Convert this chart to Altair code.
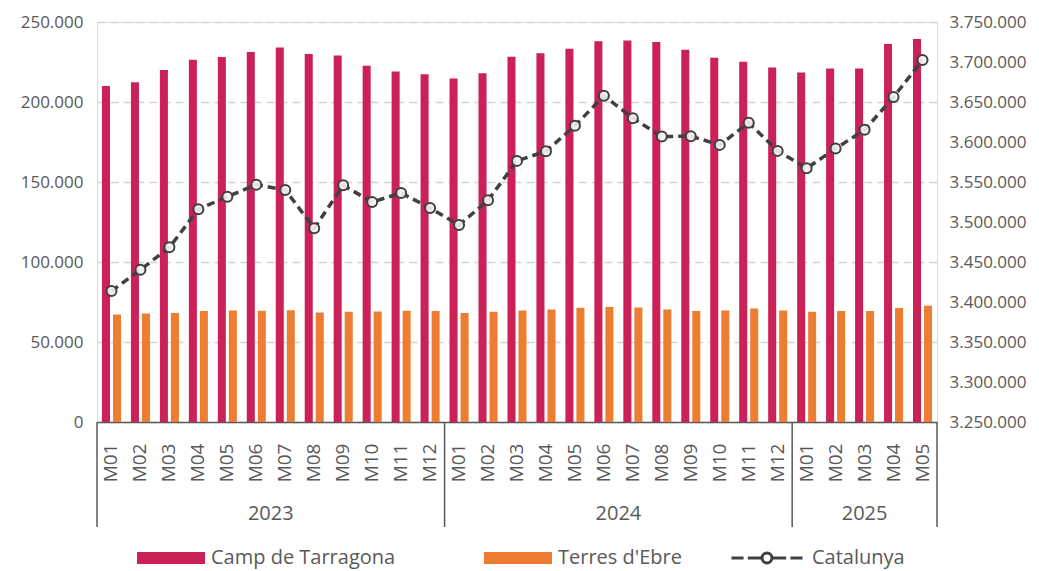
import altair as alt
import pandas as pd

# ---------------- data ----------------
years = ["2023"] * 12 + ["2024"] * 12 + ["2025"] * 5
months = [f"M{m:02d}" for m in range(1, 13)] * 2 + [f"M{m:02d}" for m in range(1, 6)]
keys = [f"{y}-{m}" for y, m in zip(years, months)]

camp_tarragona = [210000, 212400, 220000, 226400, 228100, 231200, 234100, 230000, 229100, 222700,
                  219100, 217400, 214700, 217900, 228300, 230400, 233300, 237900, 238500, 237500,
                  232700, 227700, 225200, 221600, 218500, 221000, 221000, 236200, 239400]
terres_ebre = [67200, 67800, 68200, 69300, 69700, 69500, 69900, 68400, 68900, 69100, 69500, 69300,
               68200, 68900, 69700, 70300, 71400, 71800, 71600, 70300, 69300, 69700, 71000, 69700,
               68900, 69300, 69300, 71200, 72600]
catalunya = [3413600, 3440300, 3468300, 3515900, 3531700, 3546700, 3540100, 3492100, 3545900,
             3525000, 3536300, 3517500, 3496200, 3527100, 3576400, 3588500, 3620200, 3657800,
             3629800, 3606800, 3607300, 3596400, 3624000, 3588900, 3567200, 3591800, 3615200,
             3656100, 3702400]

series_bars = ["Camp de Tarragona", "Terres d'Ebre"]
series_colors = ["#CC2157", "#ED7D31"]
year_labels = ["2023", "2024", "2025"]
year_center_keys = ["2023-M07", "2024-M07", "2025-M03"]
year_start_keys = ["2023-M01", "2024-M01", "2025-M01"]

FONT = "Open Sans"
TXT = "#595959"
DARK = "#404040"

bars_df = pd.DataFrame({
    "key": keys * 2,
    "series": [series_bars[0]] * len(keys) + [series_bars[1]] * len(keys),
    "value": camp_tarragona + terres_ebre,
})
line_df = pd.DataFrame({"key": keys, "series": "Catalunya", "value": catalunya})
sep_df = pd.DataFrame({"key": year_start_keys})
end_df = pd.DataFrame({"key": [keys[-1]]})
yr_a = pd.DataFrame({"key": year_center_keys[:2], "year": year_labels[:2]})
yr_b = pd.DataFrame({"key": year_center_keys[2:], "year": year_labels[2:]})

W, H = 840, 400
xscale = alt.Scale(domain=keys, paddingInner=0, paddingOuter=0)

x_axis = alt.Axis(
    title=None, labelExpr="split(datum.value, '-')[1]", labelAngle=-90,
    labelAlign="right", labelBaseline="middle",
    labelFont=FONT, labelFontSize=19, labelColor=TXT, labelPadding=21,
    ticks=False, domainColor=TXT, domainWidth=1.5, grid=False,
)

cat_path = ("M-1,0H-0.66M-0.54,0H-0.15M0.15,0H0.54M0.66,0H1"
            "M0.14,0A0.14,0.14 0 1 1 -0.14,0A0.14,0.14 0 1 1 0.14,0Z")
rect_path = "M-1,-0.18H1V0.18H-1Z"

bars = alt.Chart(bars_df).mark_bar().encode(
    x=alt.X("key:N", scale=xscale, axis=x_axis),
    xOffset=alt.XOffset("series:N", scale=alt.Scale(domain=series_bars, paddingInner=0.27, paddingOuter=0.45)),
    y=alt.Y("value:Q", scale=alt.Scale(domain=[0, 250000], nice=False),
            axis=alt.Axis(title=None, values=[0, 50000, 100000, 150000, 200000, 250000],
                          format=",d", labelFont=FONT, labelFontSize=17, labelColor=TXT,
                          labelPadding=14, ticks=False, domain=False, grid=True,
                          gridDash=[8, 5], gridColor="#d4d4d4", gridWidth=1.5,
                          minExtent=84, maxExtent=84)),
    color=alt.Color("series:N", scale=alt.Scale(domain=series_bars, range=series_colors),
                    legend=alt.Legend(title=None, orient="none", legendX=40, legendY=502,
                                      direction="horizontal", symbolType=rect_path,
                                      symbolSize=4624, labelFont=FONT, labelFontSize=20,
                                      labelColor=TXT, labelOffset=6, columnPadding=88,
                                      labelLimit=400, padding=0, symbolStrokeWidth=0)),
)

yright = alt.Y("value:Q", scale=alt.Scale(domain=[3250000, 3750000], nice=False),
               axis=alt.Axis(title=None, orient="right",
                             values=[3250000 + 50000 * i for i in range(11)],
                             format=",d", labelFont=FONT, labelFontSize=17, labelColor=TXT,
                             labelPadding=12, ticks=False, domain=False, grid=False))

line = alt.Chart(line_df).mark_line(color=DARK, strokeDash=[8, 5], strokeWidth=3.5).encode(
    x=alt.X("key:N", scale=xscale), y=yright)
pts = alt.Chart(line_df).mark_point(shape="circle", filled=True, fill="#f2f2f2", fillOpacity=0.9,
                                    stroke=DARK, strokeWidth=2, size=100, opacity=1).encode(
    x=alt.X("key:N", scale=xscale), y=yright)
hidden = alt.Chart(line_df).mark_point(opacity=0).encode(
    x=alt.X("key:N", scale=xscale), y=yright,
    shape=alt.Shape("series:N", scale=alt.Scale(domain=["Catalunya"], range=[cat_path]),
                    legend=alt.Legend(title=None, orient="none", legendX=633, legendY=499,
                                      symbolSize=5041, symbolOpacity=1, symbolFillColor="#ffffff",
                                      symbolStrokeColor=DARK, symbolStrokeWidth=3,
                                      labelFont=FONT, labelFontSize=20, labelColor=TXT,
                                      labelOffset=8, labelLimit=400, padding=0)),
)
right_layer = alt.layer(line, pts, hidden)

main = alt.layer(bars, right_layer).resolve_scale(y="independent", shape="independent",
                                                   color="independent")

seps = alt.Chart(sep_df).mark_rule(color=TXT, strokeWidth=1.5).encode(
    x=alt.X("key:N", scale=xscale, bandPosition=0), y=alt.value(H), y2=alt.value(H + 105))
end_rule = alt.Chart(end_df).mark_rule(color=TXT, strokeWidth=1.5).encode(
    x=alt.X("key:N", scale=xscale, bandPosition=1), y=alt.value(H), y2=alt.value(H + 105))
ytxt_a = alt.Chart(yr_a).mark_text(font=FONT, fontSize=20, color=TXT, baseline="middle").encode(
    x=alt.X("key:N", scale=xscale, bandPosition=0), y=alt.value(H + 92), text="year:N")
ytxt_b = alt.Chart(yr_b).mark_text(font=FONT, fontSize=20, color=TXT, baseline="middle").encode(
    x=alt.X("key:N", scale=xscale, bandPosition=0.5), y=alt.value(H + 92), text="year:N")

chart = alt.layer(main, seps, end_rule, ytxt_a, ytxt_b).properties(
    width=W, height=H,
    padding={"left": 5, "top": 5, "right": 0, "bottom": 0},
).configure_view(stroke=None).configure(
    locale={"number": {"decimal": ",", "thousands": ".", "grouping": [3], "currency": ["", "\u20ac"]}}
)

chart.save("out.html", embed_options={"renderer": "svg", "actions": False})
